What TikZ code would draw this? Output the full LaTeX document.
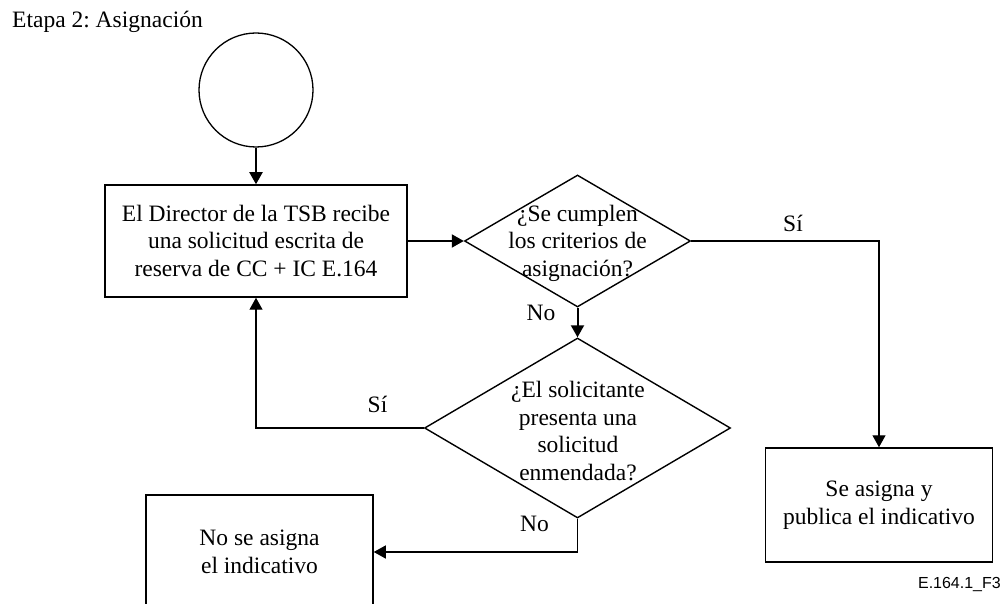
\documentclass[tikz,border=0pt]{standalone}
\usepackage{fontspec}
\setmainfont{Liberation Serif}
\newfontfamily\labsans{Liberation Sans}
\usetikzlibrary{shapes.geometric,arrows.meta}
\frenchspacing
\begin{document}
\begin{tikzpicture}[x=1pt,y=-1pt,
  txt/.style={font=\fontsize{23.5}{27.5}\selectfont},
  procbox/.style={draw,line width=1.5pt,inner sep=0pt,align=center,txt},
  decis/.style={draw,diamond,line width=1.4pt,inner sep=0pt},
  conn/.style={line width=1.3pt,-{Triangle[length=12pt,width=13pt]}},
  mainconn/.style={conn,line width=2pt},
  lbl/.style={txt,inner sep=0pt}
]
\useasboundingbox (0,0) rectangle (1005,604);
\clip (0,0) rectangle (1005,604);

\node[txt,anchor=base west,inner sep=0pt] (title) at (12,28) {Etapa 2: Asignación};

\node[draw,circle,minimum size=114pt,line width=1.3pt,inner sep=0pt] (start) at (256,90) {};

\node[procbox,minimum width=302pt,minimum height=112pt] (recv) at (256,241)
  {El Director de la TSB recibe\\una solicitud escrita de\\reserva de CC + IC E.164};

\node[decis,minimum width=226pt,minimum height=132pt] (crit) at (577.5,241) {};
\node[txt,align=center,inner sep=0pt] (crittext) at (577.5,243)
  {¿Se cumplen\\los criterios de\\asignación?};

\node[decis,minimum width=306pt,minimum height=180pt] (amend) at (577.5,428) {};
\node[txt,align=center,inner sep=0pt] (amendtext) at (578,431)
  {¿El solicitante\\presenta una\\solicitud\\enmendada?};

\node[procbox,minimum width=227pt,minimum height=114pt] (assign) at (879,505)
  {Se asigna y\\publica el indicativo};

\node[procbox,minimum width=227pt,minimum height=114pt] (noassign) at (259.5,552)
  {No se asigna\\el indicativo};

\draw[mainconn] (start) -- (recv);
\draw[mainconn] (recv) -- (crit);
\draw[mainconn] (crit) -- (amend);
\draw[conn] (crit.east) -| (assign.north);
\draw[conn] (amend.west) -| (recv.south);
\draw[conn] (amend.south) |- (noassign.east);

\node[lbl] (yes1) at (793,223) {Sí};
\node[lbl] (no1) at (541,313) {No};
\node[lbl] (yes2) at (377.5,404) {Sí};
\node[lbl] (no2) at (534.5,524) {No};

\node[anchor=base east,inner sep=0pt,font=\labsans\fontsize{16}{18}\selectfont] (figid) at (1001,588) {E.164.1\_F3};
\end{tikzpicture}
\end{document}
